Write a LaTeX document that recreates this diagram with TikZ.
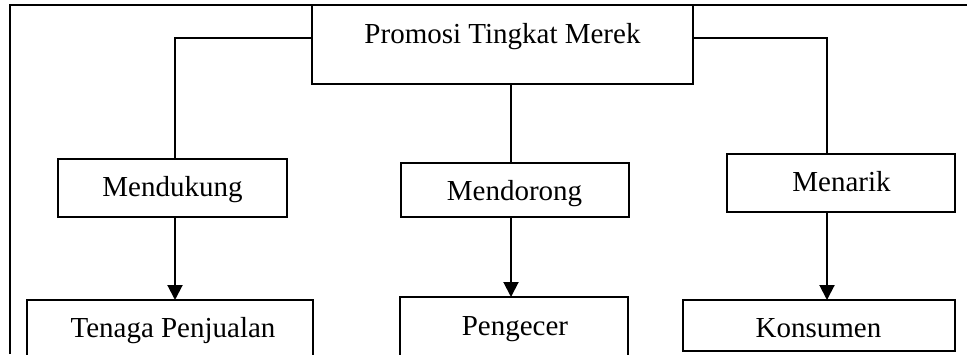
\documentclass[tikz,border=0pt]{standalone}
\usepackage{fontspec}
\setmainfont{Liberation Serif}
\usetikzlibrary{arrows.meta}
\begin{document}
\begin{tikzpicture}[x=1pt,y=-1pt,
  box/.style={draw, line width=2pt, rectangle, inner sep=0pt, outer sep=0pt},
  lbl/.style={anchor=base, inner sep=0pt, font=\fontsize{29}{34}\selectfont},
  conn/.style={line width=2pt},
  arr/.style={line width=2pt, -{Triangle[length=15pt,width=15pt]}}]
\useasboundingbox (0,0) rectangle (967,354);
\clip (0,0) rectangle (967,354);
% frame
\coordinate (ftl) at (10,5);
\coordinate (ftr) at (967,5);
\coordinate (fbl) at (10,354);
\draw[conn] (fbl) -- (ftl) -- (ftr);
% boxes
\node[box, minimum width=381pt, minimum height=79pt] (top) at (502.5,44.5) {};
\node[box, minimum width=229pt, minimum height=58pt] (dukung) at (172.5,188) {};
\node[box, minimum width=228pt, minimum height=54pt] (dorong) at (515,190) {};
\node[box, minimum width=228pt, minimum height=58pt] (tarik) at (841,183) {};
\node[box, minimum width=286pt, minimum height=70pt] (tenaga) at (170,335) {};
\node[box, minimum width=228pt, minimum height=70pt] (ecer) at (514,332) {};
\node[box, minimum width=272pt, minimum height=51pt] (konsumen) at (819,325.5) {};
% texts
\node[lbl] (ttop) at (502.5,43) {Promosi Tingkat Merek};
\node[lbl] (tdukung) at (172.5,196) {Mendukung};
\node[lbl] (tdorong) at (514.5,200.5) {Mendorong};
\node[lbl] (ttarik) at (841.5,191.5) {Menarik};
\node[lbl] (ttenaga) at (173,337) {Tenaga Penjualan};
\node[lbl] (tecer) at (515,335) {Pengecer};
\node[lbl] (tkons) at (818.5,337) {Konsumen};
% connectors
\coordinate (lj) at (175,38);
\coordinate (rj) at (827,38);
\coordinate (mj) at (511,84);
\draw[conn] (top.west |- lj) -- (lj) -- (dukung.north -| lj);
\draw[conn] (top.east |- rj) -- (rj) -- (tarik.north -| rj);
\draw[conn] (mj) -- (dorong.north -| mj);
% arrows
\draw[arr] (dukung.south -| lj) -- (tenaga.north -| lj);
\draw[arr] (dorong.south -| mj) -- (ecer.north -| mj);
\draw[arr] (tarik.south -| rj) -- (konsumen.north -| rj);
\end{tikzpicture}
\end{document}
